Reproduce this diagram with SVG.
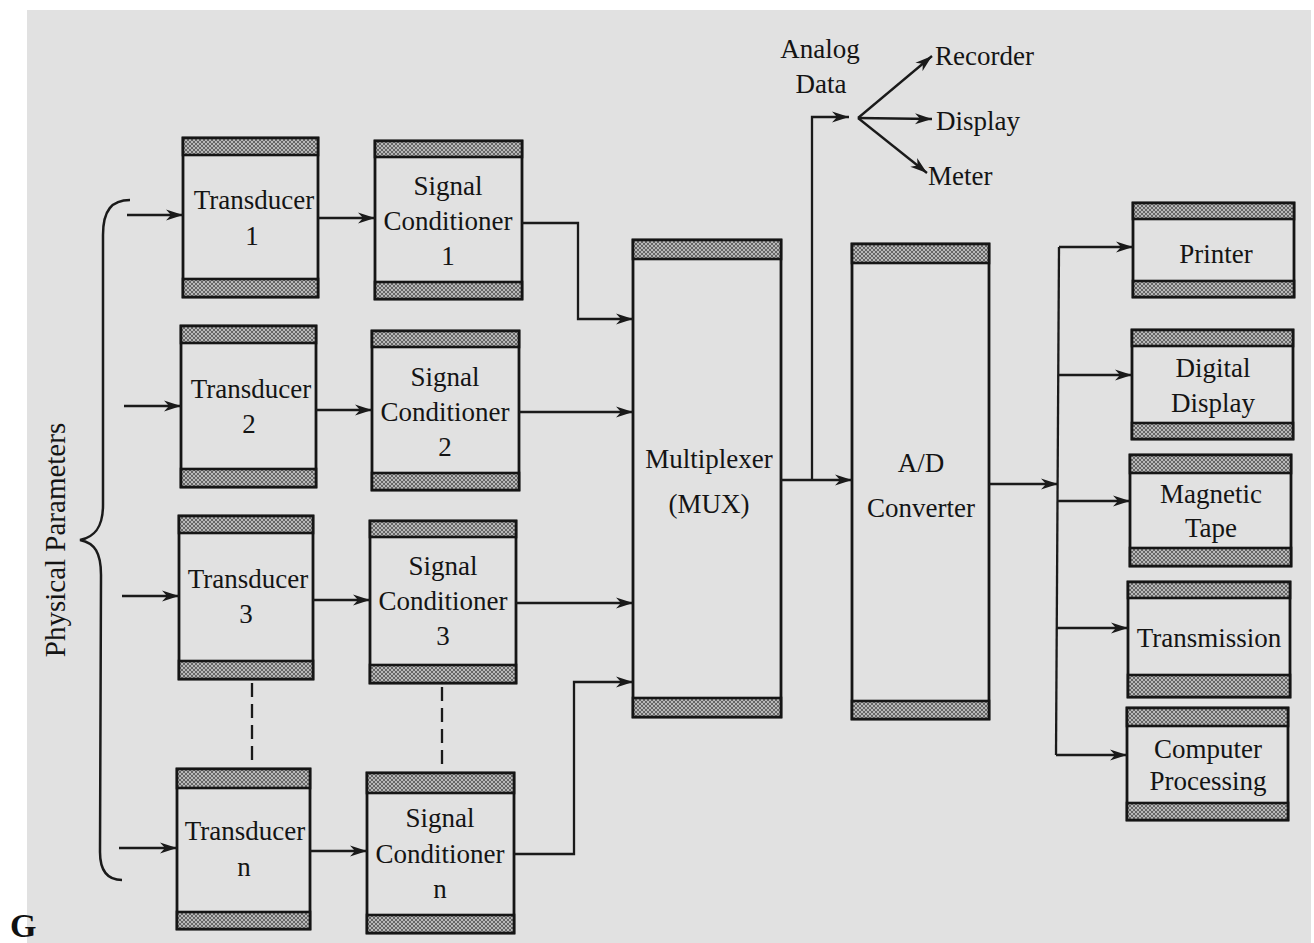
<svg xmlns="http://www.w3.org/2000/svg" width="1314" height="943" viewBox="0 0 1314 943">
<defs>
<pattern id="hatch" width="4" height="4" patternUnits="userSpaceOnUse">
<rect width="4" height="4" fill="#b8b8b8"/>
<path d="M0,0 L4,4 M4,0 L0,4" stroke="#5c5c5c" stroke-width="0.9"/>
</pattern>
<marker id="arr" markerUnits="userSpaceOnUse" markerWidth="18" markerHeight="12" refX="17" refY="6" orient="auto">
<path d="M0,0.5 L17,6 L0,11.5 L5,6 Z" fill="#1a1a1a"/>
</marker>
<style>
.box{fill:none;stroke:#151515;stroke-width:2.8}
.strip{fill:url(#hatch);stroke:#151515;stroke-width:2.6}
.t{font-family:"Liberation Serif","Times New Roman",serif;font-size:27px;fill:#141414;text-anchor:middle}
.ts{font-family:"Liberation Serif","Times New Roman",serif;font-size:27px;fill:#141414}
.c{fill:none;stroke:#1a1a1a;stroke-width:2.3}
.a{marker-end:url(#arr)}
.d{stroke-dasharray:14 7}
</style>
</defs>
<rect x="0" y="0" width="1314" height="943" fill="#ffffff"/>
<rect x="27" y="10" width="1284" height="933" fill="#e1e1e1"/>
<text x="10" y="937" style="font-family:'Liberation Serif',serif;font-size:34px;font-weight:bold;fill:#111">G</text>

<g id="brace">
<path d="M130,200 C112,200 103,210 103,235 L103,505 C103,527 95,537 80,540 C95,543 101,553 101,575 L100,852 C100,872 108,880 122,880" fill="none" stroke="#1a1a1a" stroke-width="2.5"/>
<text transform="translate(65,540) rotate(-90)" class="t" style="font-size:29px">Physical Parameters</text>
</g>

<g id="transducer1">
<rect class="box" x="183" y="138" width="135" height="159"/>
<rect class="strip" x="183" y="138" width="135" height="17"/>
<rect class="strip" x="183" y="279" width="135" height="18"/>
<text class="t" x="254" y="209">Transducer</text>
<text class="t" x="252" y="245">1</text>
</g>
<g id="conditioner1">
<rect class="box" x="375" y="141" width="147" height="158"/>
<rect class="strip" x="375" y="141" width="147" height="16"/>
<rect class="strip" x="375" y="282" width="147" height="17"/>
<text class="t" x="448" y="195">Signal</text>
<text class="t" x="448" y="230">Conditioner</text>
<text class="t" x="448" y="265">1</text>
</g>

<g id="transducer2">
<rect class="box" x="181" y="326" width="135" height="161"/>
<rect class="strip" x="181" y="326" width="135" height="17"/>
<rect class="strip" x="181" y="469" width="135" height="18"/>
<text class="t" x="251" y="398">Transducer</text>
<text class="t" x="249" y="433">2</text>
</g>
<g id="conditioner2">
<rect class="box" x="372" y="331" width="147" height="159"/>
<rect class="strip" x="372" y="331" width="147" height="16"/>
<rect class="strip" x="372" y="473" width="147" height="17"/>
<text class="t" x="445" y="386">Signal</text>
<text class="t" x="445" y="421">Conditioner</text>
<text class="t" x="445" y="456">2</text>
</g>

<g id="transducer3">
<rect class="box" x="179" y="516" width="134" height="163"/>
<rect class="strip" x="179" y="516" width="134" height="17"/>
<rect class="strip" x="179" y="661" width="134" height="18"/>
<text class="t" x="248" y="588">Transducer</text>
<text class="t" x="246" y="623">3</text>
</g>
<g id="conditioner3">
<rect class="box" x="370" y="521" width="146" height="162"/>
<rect class="strip" x="370" y="521" width="146" height="16"/>
<rect class="strip" x="370" y="665" width="146" height="18"/>
<text class="t" x="443" y="575">Signal</text>
<text class="t" x="443" y="610">Conditioner</text>
<text class="t" x="443" y="645">3</text>
</g>

<g id="transducerN">
<rect class="box" x="177" y="769" width="133" height="160"/>
<rect class="strip" x="177" y="769" width="133" height="19"/>
<rect class="strip" x="177" y="912" width="133" height="17"/>
<text class="t" x="245" y="840">Transducer</text>
<text class="t" x="244" y="876">n</text>
</g>
<g id="conditionerN">
<rect class="box" x="367" y="773" width="147" height="160"/>
<rect class="strip" x="367" y="773" width="147" height="20"/>
<rect class="strip" x="367" y="915" width="147" height="18"/>
<text class="t" x="440" y="827">Signal</text>
<text class="t" x="440" y="863">Conditioner</text>
<text class="t" x="440" y="898">n</text>
</g>

<g id="mux">
<rect class="box" x="633" y="240" width="148" height="477"/>
<rect class="strip" x="633" y="240" width="148" height="19"/>
<rect class="strip" x="633" y="698" width="148" height="19"/>
<text class="t" x="709" y="468">Multiplexer</text>
<text class="t" x="709" y="513">(MUX)</text>
</g>

<g id="adc">
<rect class="box" x="852" y="244" width="137" height="475"/>
<rect class="strip" x="852" y="244" width="137" height="19"/>
<rect class="strip" x="852" y="701" width="137" height="18"/>
<text class="t" x="921" y="472">A/D</text>
<text class="t" x="921" y="517">Converter</text>
</g>

<g id="analog-data">
<text class="t" x="820" y="58">Analog</text>
<text class="t" x="821" y="93">Data</text>
<text class="ts" x="935" y="65">Recorder</text>
<text class="ts" x="936" y="130">Display</text>
<text class="ts" x="928" y="185">Meter</text>
</g>

<g id="printer">
<rect class="box" x="1133" y="203" width="161" height="94"/>
<rect class="strip" x="1133" y="203" width="161" height="16"/>
<rect class="strip" x="1133" y="281" width="161" height="16"/>
<text class="t" x="1216" y="263">Printer</text>
</g>
<g id="digital-display">
<rect class="box" x="1132" y="330" width="161" height="109"/>
<rect class="strip" x="1132" y="330" width="161" height="16"/>
<rect class="strip" x="1132" y="423" width="161" height="16"/>
<text class="t" x="1213" y="377">Digital</text>
<text class="t" x="1213" y="412">Display</text>
</g>
<g id="magnetic-tape">
<rect class="box" x="1130" y="455" width="161" height="111"/>
<rect class="strip" x="1130" y="455" width="161" height="18"/>
<rect class="strip" x="1130" y="548" width="161" height="18"/>
<text class="t" x="1211" y="503">Magnetic</text>
<text class="t" x="1211" y="537">Tape</text>
</g>
<g id="transmission">
<rect class="box" x="1128" y="582" width="162" height="115"/>
<rect class="strip" x="1128" y="582" width="162" height="16"/>
<rect class="strip" x="1128" y="675" width="162" height="22"/>
<text class="t" x="1209" y="647">Transmission</text>
</g>
<g id="computer-processing">
<rect class="box" x="1127" y="708" width="161" height="112"/>
<rect class="strip" x="1127" y="708" width="161" height="18"/>
<rect class="strip" x="1127" y="803" width="161" height="17"/>
<text class="t" x="1208" y="758">Computer</text>
<text class="t" x="1208" y="790">Processing</text>
</g>

<g id="connectors">
<line class="c a" x1="127" y1="215" x2="183" y2="215"/>
<line class="c a" x1="124" y1="406" x2="181" y2="406"/>
<line class="c a" x1="122" y1="596" x2="179" y2="596"/>
<line class="c a" x1="119" y1="848" x2="177" y2="848"/>
<line class="c a" x1="318" y1="218" x2="375" y2="218"/>
<line class="c a" x1="316" y1="410" x2="372" y2="410"/>
<line class="c a" x1="313" y1="600" x2="370" y2="600"/>
<line class="c a" x1="310" y1="851" x2="367" y2="851"/>
<polyline class="c a" points="522,223 578,223 578,319 633,319"/>
<line class="c a" x1="519" y1="412" x2="633" y2="412"/>
<line class="c a" x1="516" y1="603" x2="633" y2="603"/>
<polyline class="c a" points="514,854 574,854 574,682 633,682"/>
<line class="c d" x1="252" y1="683" x2="252" y2="765"/>
<line class="c d" x1="442" y1="687" x2="442" y2="769"/>
<line class="c a" x1="781" y1="480" x2="852" y2="480"/>
<polyline class="c a" points="812,480 812,117 849,117"/>
<line class="c a" x1="858" y1="118" x2="932" y2="56"/>
<line class="c a" x1="858" y1="118" x2="932" y2="119"/>
<line class="c a" x1="858" y1="118" x2="927" y2="173"/>
<line class="c a" x1="989" y1="484" x2="1058" y2="484"/>
<line class="c" x1="1059" y1="247" x2="1056" y2="755"/>
<line class="c a" x1="1059" y1="247" x2="1133" y2="247"/>
<line class="c a" x1="1058" y1="375" x2="1132" y2="375"/>
<line class="c a" x1="1057" y1="501" x2="1130" y2="501"/>
<line class="c a" x1="1057" y1="628" x2="1128" y2="628"/>
<line class="c a" x1="1056" y1="755" x2="1127" y2="755"/>
</g>
</svg>
